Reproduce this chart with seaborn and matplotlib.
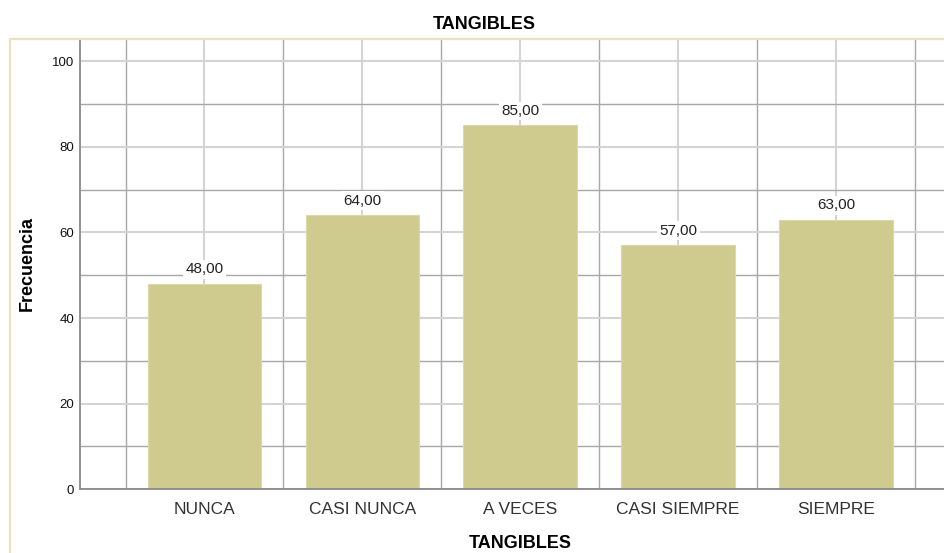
import matplotlib
matplotlib.use("Agg")
import matplotlib.pyplot as plt
import seaborn as sns
import pandas as pd
from matplotlib.lines import Line2D

# Frequency table for the "TANGIBLES" item
categorias = ["NUNCA", "CASI NUNCA", "A VECES", "CASI SIEMPRE", "SIEMPRE"]
frecuencias = [48, 64, 85, 57, 63]
y_ticks = [0, 20, 40, 60, 80, 100]
y_minor = [10, 30, 50, 70, 90]

sns.set_style("white")
plt.rcParams["font.family"] = ["Liberation Sans", "DejaVu Sans"]
plt.rcParams["text.color"] = "#111111"

df = pd.DataFrame({"TANGIBLES": categorias, "Frecuencia": frecuencias})

W, H = 945, 553
fig = plt.figure(figsize=(W / 100, H / 100), dpi=100)
ax_left, ax_bottom, ax_top = 80.5, 489.3, 39.0
ax = fig.add_axes([ax_left / W, 1 - ax_bottom / H, 1 - ax_left / W, (ax_bottom - ax_top) / H])

bar_color = "#cfcb8f"
sns.barplot(data=df, x="TANGIBLES", y="Frecuencia", color=bar_color,
            saturation=1, width=0.72, edgecolor="#dcd9a8", linewidth=0.8, ax=ax)

ax.set_xlim(-0.785, 4.69)
ax.set_ylim(0, 105.2)

# Grid: lighter lines on the main ticks, darker ones in between
ax.set_yticks(y_ticks)
ax.set_yticks(y_minor, minor=True)
ax.set_xticks(range(len(categorias)))
ax.set_xticks([i - 0.5 for i in range(len(categorias) + 1)], minor=True)
ax.set_axisbelow(True)
ax.grid(which="major", color="#d4d4d4", linewidth=1.5)
ax.grid(which="minor", color="#a8a8a8", linewidth=1.0)

ax.tick_params(axis="both", which="both", length=0)
ax.tick_params(axis="y", labelsize=9.5, pad=4.5, labelcolor="#111111")
ax.tick_params(axis="x", labelsize=12.5, pad=9, labelcolor="#333333")
ax.set_xticklabels(categorias)

for side in ("top", "right"):
    ax.spines[side].set_visible(False)
for side in ("left", "bottom"):
    ax.spines[side].set_color("#8a8a8a")
    ax.spines[side].set_linewidth(1.3)

# Value labels above the bars
for i, v in enumerate(frecuencias):
    txt = f"{v:.2f}".replace(".", ",")
    ax.annotate(txt, xy=(i, v), xytext=(0, 7.5), textcoords="offset points",
                ha="center", va="baseline", fontsize=11, color="#222222",
                bbox=dict(facecolor="white", edgecolor="none", pad=1.8), zorder=5)

ax.set_title("TANGIBLES", fontsize=13, fontweight="bold", x=0.467, pad=7, color="black")
ax.set_xlabel("TANGIBLES", fontsize=13, fontweight="bold", color="black")
ax.set_ylabel("Frecuencia", fontsize=13, fontweight="bold", color="black")
ax.xaxis.set_label_coords((520 - ax_left) / (W - ax_left), (ax_bottom - 544) / (ax_bottom - ax_top))
ax.xaxis.label.set_va("center")
ax.yaxis.set_label_coords((27.5 - ax_left) / (W - ax_left), (ax_bottom - 263.5) / (ax_bottom - ax_top))
ax.yaxis.label.set_va("center")

# Outer chart frame (top and left edges)
frame_color = "#e6e2c3"
fig.add_artist(Line2D([9.7 / W, 1.0], [1 - ax_top / H, 1 - ax_top / H],
                      transform=fig.transFigure, color=frame_color, linewidth=1.6))
fig.add_artist(Line2D([9.7 / W, 9.7 / W], [0, 1 - ax_top / H],
                      transform=fig.transFigure, color=frame_color, linewidth=1.6))

fig.savefig("out.png", dpi=100)
